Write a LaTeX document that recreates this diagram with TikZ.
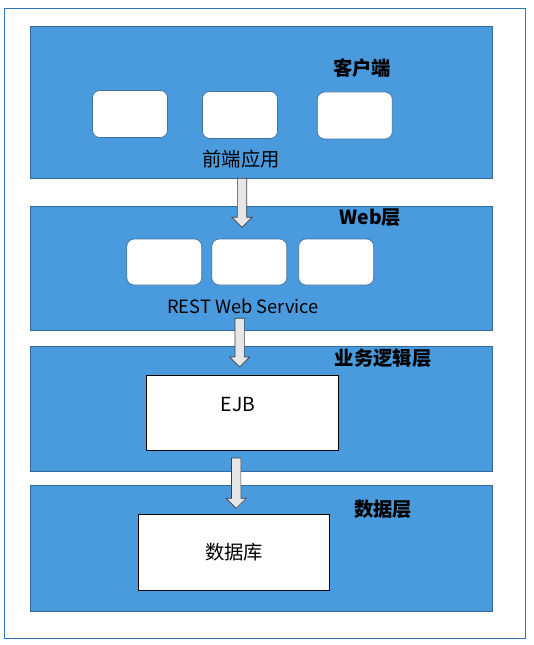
\documentclass[tikz,border=0pt]{standalone}
\usepackage{fontspec}
\setmainfont{Noto Sans CJK SC}
\usetikzlibrary{calc}
\definecolor{layerblue}{HTML}{4A9ADE}
\definecolor{layerline}{HTML}{31689E}
\definecolor{frameline}{HTML}{2E75B6}
\definecolor{boxline}{HTML}{41719C}
\definecolor{arrowfill}{HTML}{E7E6E6}
\newcommand\pxu{0.75pt}
\newcommand\fatarrow[2]{%
  \filldraw[fatarrow] let \p1 = (#1), \p2 = (#2) in
    (\x1-3.5pt,\y1) -- (\x1+3.5pt,\y1) -- (\x1+3.5pt,\y2+7.5pt)
    -- (\x1+7.5pt,\y2+7.5pt) -- (\x1,\y2) -- (\x1-7.5pt,\y2+7.5pt)
    -- (\x1-3.5pt,\y2+7.5pt) -- cycle;}
\begin{document}
\begin{tikzpicture}[x = 0.75pt, y = -0.75pt,
    every node/.style = {font=\fontsize{14.5pt}{16pt}\selectfont, text=black},
    layer/.style = {draw=layerline, fill=layerblue, line width=0.8pt,
      minimum width=462.4*\pxu, inner sep=0pt},
    app/.style = {draw=boxline, fill=white, rounded corners=5.5pt, line width=0.5pt,
      minimum width=75*\pxu, minimum height=47*\pxu, inner sep=0pt},
    unit/.style = {draw=black, fill=white, line width=0.6pt, inner sep=0pt},
    title/.style = {font=\fontsize{14.5pt}{16pt}\selectfont\bfseries},
    fatarrow/.style = {fill=arrowfill, draw=black!75, line width=0.5pt}]
    \useasboundingbox (0,0) rectangle (533,645);
    \draw[frameline, line width=0.8pt] (4.3,8.3) rectangle (525.3,638.3);
    % layers
    \node[layer, minimum height=152*\pxu] (client) at (261.5,102.3) {};
    \node[layer, minimum height=124.3*\pxu] (web) at (261.5,268.8) {};
    \node[layer, minimum height=124.6*\pxu] (logic) at (261.5,409) {};
    \node[layer, minimum height=125.3*\pxu] (data) at (261.5,548.6) {};
    % client
    \node[title] (clienttitle) at (362,68.3) {客户端};
    \node[app] (app1) at (130,114) {};
    \node[app] (app2) at (240,115) {};
    \node[app] (app3) at (354.8,115.5) {};
    \node (frontend) at (241,159) {前端应用};
    % web
    \node[title] (webtitle) at (370.5,217.7) {Web层};
    \node[app, minimum height=46*\pxu] (ws1) at (164.3,262) {};
    \node[app, minimum height=46*\pxu] (ws2) at (249.3,262) {};
    \node[app, minimum height=46*\pxu] (ws3) at (336.2,262) {};
    \node[font=\fontsize{13.7pt}{16pt}\selectfont] (rest) at (243,306) {REST Web Service};
    % logic
    \node[title] (logictitle) at (383,358) {业务逻辑层};
    \node[unit, minimum width=192.4*\pxu, minimum height=75*\pxu] (ejb) at (242.5,412.8) {};
    \node (ejbtext) at (238,405) {EJB};
    % data
    \node[title] (datatitle) at (383,509) {数据层};
    \node[unit, minimum width=191.4*\pxu, minimum height=76.3*\pxu] (db) at (234,552.2) {数据库};
    % arrows
    \coordinate (a1s) at (242,178.3);
    \coordinate (a1e) at (242,227.3);
    \coordinate (a2s) at (239.7,318.3);
    \coordinate (a2e) at (239.7,367);
    \coordinate (a3s) at (236.2,458);
    \coordinate (a3e) at (236.2,508.3);
    \fatarrow{a1s}{a1e}
    \fatarrow{a2s}{a2e}
    \fatarrow{a3s}{a3e}
\end{tikzpicture}
\end{document}
